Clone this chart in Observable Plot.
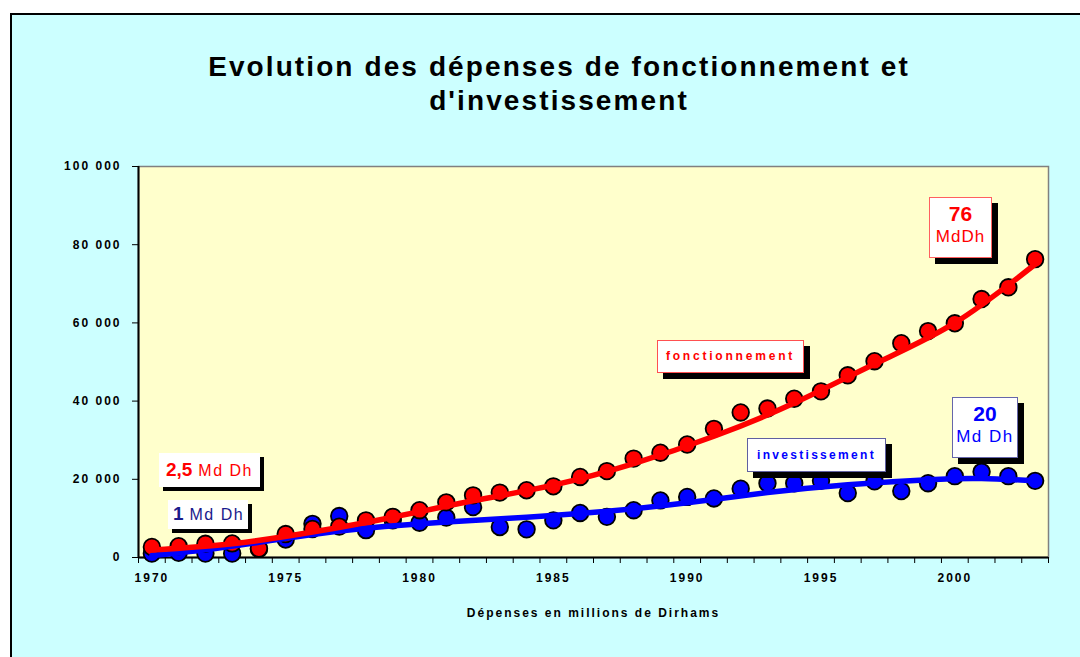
<!DOCTYPE html>
<html><head><meta charset="utf-8">
<script src="https://cdn.jsdelivr.net/npm/d3@7"></script>
<script src="https://cdn.jsdelivr.net/npm/@observablehq/plot@0.6"></script>
<style>
html,body{margin:0;padding:0;background:#fff;width:1080px;height:657px;overflow:hidden;font-family:"Liberation Sans",Arial,sans-serif;}
#wrap{position:relative;width:1080px;height:657px;overflow:hidden;}
#bg{position:absolute;left:10px;top:13px;width:1100px;height:700px;border:2px solid #000;background:#CCFFFF;}
#title{position:absolute;left:0;top:50px;width:1118px;text-align:center;font-weight:bold;font-size:28px;line-height:34px;letter-spacing:2.1px;color:#000;}
#chart{position:absolute;left:0;top:0;}
#chart svg{background:transparent;overflow:visible;}
#chart svg text{letter-spacing:2px;}
#chart svg text.xt{letter-spacing:2.4px;}
.box{position:absolute;background:#fff;box-sizing:border-box;white-space:nowrap;}
.red{color:#FF0000;}
.blue{color:#0000FF;}
.navy{color:#1A1A8C;}
</style>
</head><body>
<div id="wrap">
  <div id="bg"></div>
  <div id="title">Evolution des dépenses de fonctionnement et<br>d'investissement</div>
  <div id="chart"></div>
  <div class="box red" style="left:159px;top:453px;width:101px;height:34px;box-shadow:4px 4px 0 #000;padding:6px 0 0 7px;"><b style="font-size:19px;">2,5</b><span style="font-size:16px;letter-spacing:1.5px;"> Md Dh</span></div>
  <div class="box navy" style="left:168px;top:500px;width:80px;height:29px;box-shadow:4px 4px 0 #000;padding:3px 0 0 5px;"><b style="font-size:19px;">1</b><span style="font-size:16px;letter-spacing:1.5px;"> Md Dh</span></div>
  <div class="box red" style="left:657px;top:340px;width:147px;height:33px;border:1px solid #FF5050;box-shadow:6px 6px 0 #000;text-align:center;line-height:31px;font-weight:bold;font-size:12px;letter-spacing:2.8px;">fonctionnement</div>
  <div class="box blue" style="left:747px;top:438px;width:139px;height:34px;border:1px solid #6060A0;box-shadow:6px 6px 0 #000;text-align:center;line-height:32px;font-weight:bold;font-size:12px;letter-spacing:2.3px;">investissement</div>
  <div class="box red" style="left:929px;top:197px;width:63px;height:61px;border:1px solid #FF6060;box-shadow:6px 6px 0 #000;text-align:center;padding-top:4px;"><div style="font-weight:bold;font-size:21px;line-height:24px;">76</div><div style="font-size:17px;line-height:22px;letter-spacing:1px;">MdDh</div></div>
  <div class="box blue" style="left:952px;top:397px;width:66px;height:61px;border:1px solid #6666AA;box-shadow:6px 6px 0 #000;text-align:center;padding-top:4px;"><div style="font-weight:bold;font-size:21px;line-height:24px;">20</div><div style="font-size:17px;line-height:22px;letter-spacing:1.5px;">Md Dh</div></div>
</div>
<script>
const years = [1970,1971,1972,1973,1974,1975,1976,1977,1978,1979,1980,1981,1982,1983,1984,1985,1986,1987,1988,1989,1990,1991,1992,1993,1994,1995,1996,1997,1998,1999,2000,2001,2002,2003];
const fonctionnement = [2700,2900,3500,3600,2300,6000,7300,7900,9500,10400,12100,14100,15900,16600,17200,18200,20600,22100,25300,26800,28900,32900,37100,38100,40600,42500,46600,50200,54800,57900,59900,66100,69100,76300];
const investissement = [1000,1200,1000,1000,2200,4600,8600,10600,7000,9500,8900,10200,12900,7800,7200,9500,11400,10400,12100,14600,15500,15100,17600,19000,19000,19600,16500,19500,17000,19000,20800,21900,20800,19600];
// tendances
const trendYearsF = [1970,1973,1976,1979,1982,1985,1988,1991,1994,1997,2000,2003];
const trendF = [1900,3500,6500,10300,14500,18500,24000,31000,39500,49500,60000,75000];
const trendYearsI = [1970,1972,1974,1976,1978,1981,1984,1987,1990,1993,1996,1999,2001,2003];
const trendI = [500,2000,3900,5900,7500,9100,10300,11800,14000,16600,18600,19900,20200,19600];
const xTickYears = [1970,1975,1980,1985,1990,1995,2000];
const yTicks = [0,20000,40000,60000,80000,100000];
const xTitle = "Dépenses en millions de Dirhams";

const rowsF = years.map((y,i)=>({year:y, value:fonctionnement[i]}));
const rowsI = years.map((y,i)=>({year:y, value:investissement[i]}));
const tF = trendYearsF.map((y,i)=>({year:y, value:trendF[i]}));
const tI = trendYearsI.map((y,i)=>({year:y, value:trendI[i]}));
const x0 = years[0]-0.5, x1 = years[years.length-1]+0.5;
const boundaries = years.map(y=>y-0.5).concat([x1]);
const fmt = d => d3.format(",")(d).replace(/,/g," ");

const chart = Plot.plot({
  width:1080, height:657,
  marginLeft:138, marginRight:32, marginTop:166, marginBottom:100,
  style:{background:"transparent", fontFamily:"'Liberation Sans', Arial, sans-serif", color:"#000"},
  x:{domain:[x0,x1]},
  y:{domain:[0,100000]},
  marks:[
    Plot.frame({fill:"#FFFFCC", stroke:"#808080", strokeWidth:1.5}),
    Plot.ruleX([x0],{stroke:"#000", strokeWidth:2}),
    Plot.ruleY([0],{stroke:"#000", strokeWidth:2}),
    Plot.axisY({ticks:yTicks, tickFormat:fmt, tickSize:6, tickPadding:11, fontSize:12, fontWeight:"bold", label:null, stroke:"#000"}),
    Plot.axisX({ticks:boundaries, tickFormat:()=>"", tickSize:6, label:null, stroke:"#000"}),
    Plot.axisX({ticks:xTickYears, tickFormat:d=>String(d), tickSize:0, tickPadding:16, fontSize:12, fontWeight:"bold", label:null}),
    Plot.text([xTitle],{frameAnchor:"bottom", dy:59, text:d=>d, fontSize:12, fontWeight:"bold", fill:"#000", className:"xt"}),
    Plot.dot(rowsI,{x:"year", y:"value", r:8.3, fill:"#0000FF", stroke:"#000", strokeWidth:1.8}),
    Plot.dot(rowsF,{x:"year", y:"value", r:8.3, fill:"#FF0000", stroke:"#000", strokeWidth:1.8}),
    Plot.line(tI,{x:"year", y:"value", curve:"natural", stroke:"#0000FF", strokeWidth:5.5}),
    Plot.line(tF,{x:"year", y:"value", curve:"natural", stroke:"#FF0000", strokeWidth:5.5})
  ]
});
document.getElementById("chart").appendChild(chart);
</script>
</body></html>
